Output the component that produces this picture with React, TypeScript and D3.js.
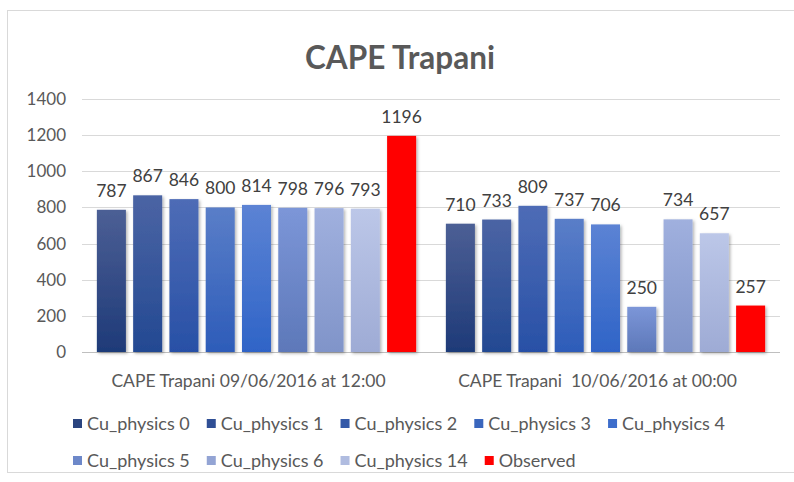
import React, { useRef, useEffect } from 'react';
import * as d3 from 'd3';

// chart data
const categories = ['CAPE Trapani 09/06/2016 at 12:00', 'CAPE Trapani  10/06/2016 at 00:00'];
const seriesNames = [
  'Cu_physics 0', 'Cu_physics 1', 'Cu_physics 2', 'Cu_physics 3', 'Cu_physics 4',
  'Cu_physics 5', 'Cu_physics 6', 'Cu_physics 14', 'Observed',
];
const cape0906 = [787, 867, 846, 800, 814, 798, 796, 793, 1196];
const cape1006 = [710, 733, 809, 737, 706, 250, 734, 657, 257];
const yTicks = [0, 200, 400, 600, 800, 1000, 1200, 1400];

// bar colours (gradient top -> bottom) and legend swatches
const gradTop = ['#4c5f95', '#4b64a4', '#4e6cb6', '#5a7ec8', '#5c83d4', '#7c96d8', '#a0b0de', '#bcc7e8', '#ff0000'];
const gradBottom = ['#1e3a78', '#234992', '#2850a6', '#2d5cb9', '#2f64c7', '#5d78b9', '#8094c9', '#9eabd5', '#ff0000'];
const legendColors = ['#2a447f', '#2f4f95', '#3459a8', '#3a66bd', '#3d6dcb', '#6d88c9', '#93a4d4', '#b0bce0', '#ff0000'];

const W = 794;
const H = 482;
const FONT = 'Lato, "Open Sans", sans-serif';

export default function App() {
  const svgRef = useRef<SVGSVGElement | null>(null);

  useEffect(() => {
    if (!svgRef.current) return;
    document.body.style.margin = '0';
    const svg = d3.select(svgRef.current);
    svg.selectAll('*').remove();

    const defs = svg.append('defs');
    seriesNames.forEach((_, i) => {
      const g = defs.append('linearGradient')
        .attr('id', `grad${i}`)
        .attr('x1', 0).attr('y1', 0).attr('x2', 0).attr('y2', 1);
      g.append('stop').attr('offset', '0%').attr('stop-color', gradTop[i]);
      g.append('stop').attr('offset', '100%').attr('stop-color', gradBottom[i]);
    });
    const shadow = defs.append('filter').attr('id', 'shadow')
      .attr('x', '-20%').attr('y', '-5%').attr('width', '150%').attr('height', '120%');
    shadow.append('feDropShadow')
      .attr('dx', 1.5).attr('dy', 1.5).attr('stdDeviation', 1.5)
      .attr('flood-color', '#000').attr('flood-opacity', 0.3);

    // chart area frame
    svg.append('rect')
      .attr('x', 7.5).attr('y', 10.5)
      .attr('width', 820).attr('height', 462)
      .attr('fill', '#fff')
      .attr('stroke', '#d9d9d9');

    // title
    svg.append('text')
      .attr('x', 400).attr('y', 69)
      .attr('text-anchor', 'middle')
      .attr('font-family', FONT)
      .attr('font-weight', 'bold')
      .attr('font-size', 31.5)
      .attr('fill', '#595959')
      .text('CAPE Trapani');

    const x0 = d3.scaleBand<string>().domain(categories).range([82, 780]).padding(0);
    const x1 = d3.scaleBand<string>().domain(seriesNames)
      .range([0, x0.bandwidth()])
      .paddingInner(0.2)
      .paddingOuter(0.41);
    const y = d3.scaleLinear().domain([0, 1400]).range([352, 99]);

    // grid
    svg.append('g').selectAll('line')
      .data(yTicks)
      .join('line')
      .attr('x1', 82).attr('x2', 780)
      .attr('y1', d => Math.round(y(d)) + 0.5)
      .attr('y2', d => Math.round(y(d)) + 0.5)
      .attr('stroke', d => (d === 0 ? '#bfbfbf' : '#d9d9d9'))
      .attr('stroke-width', 1);

    // y axis labels
    svg.append('g').selectAll('text')
      .data(yTicks)
      .join('text')
      .attr('x', 66)
      .attr('y', d => y(d) + 6)
      .attr('text-anchor', 'end')
      .attr('font-family', FONT)
      .attr('font-size', 17)
      .attr('fill', '#595959')
      .text(d => d);

    const rows = categories.map((c, ci) => ({
      cat: c,
      values: ci === 0 ? cape0906 : cape1006,
    }));

    const groups = svg.append('g').selectAll('g')
      .data(rows)
      .join('g')
      .attr('transform', d => `translate(${x0(d.cat)},0)`);

    groups.selectAll('rect')
      .data(d => d.values.map((v, i) => ({ v, i })))
      .join('rect')
      .attr('x', d => x1(seriesNames[d.i])!)
      .attr('y', d => y(d.v))
      .attr('width', x1.bandwidth())
      .attr('height', d => y(0) - y(d.v))
      .attr('fill', d => `url(#grad${d.i})`)
      .attr('filter', 'url(#shadow)');

    groups.selectAll('text')
      .data(d => d.values.map((v, i) => ({ v, i })))
      .join('text')
      .attr('x', d => x1(seriesNames[d.i])! + x1.bandwidth() / 2)
      .attr('y', d => y(d.v) - 13)
      .attr('text-anchor', 'middle')
      .attr('font-family', FONT)
      .attr('font-size', 17.5)
      .attr('fill', '#404040')
      .text(d => d.v);

    // category labels (sit a little left of the band centre, as in the original)
    svg.append('g').selectAll('text')
      .data(categories)
      .join('text')
      .attr('x', d => x0(d)! + x0.bandwidth() / 2 - 8)
      .attr('y', 387)
      .attr('text-anchor', 'middle')
      .attr('font-family', FONT)
      .attr('font-size', 17.5)
      .attr('fill', '#595959')
      .style('white-space', 'pre')
      .text(d => d);

    // legend, two rows, flow layout
    const legendRows = [seriesNames.slice(0, 5), seriesNames.slice(5)];
    const rowY = [424, 461];
    let idx = 0;
    legendRows.forEach((names, r) => {
      let cx = 73;
      names.forEach(name => {
        const i = idx++;
        const item = svg.append('g').attr('transform', `translate(${cx},${rowY[r]})`);
        item.append('rect')
          .attr('x', 0).attr('y', -5)
          .attr('width', 9).attr('height', 9)
          .attr('fill', legendColors[i]);
        const t = item.append('text')
          .attr('x', 14).attr('y', 6)
          .attr('font-family', FONT)
          .attr('font-size', 18)
          .attr('fill', '#595959')
          .text(name);
        const tw = (t.node() as SVGTextElement).getComputedTextLength();
        cx += 14 + tw + 17;
      });
    });
  }, []);

  return <svg ref={svgRef} width={W} height={H} style={{ display: 'block' }} />;
}
